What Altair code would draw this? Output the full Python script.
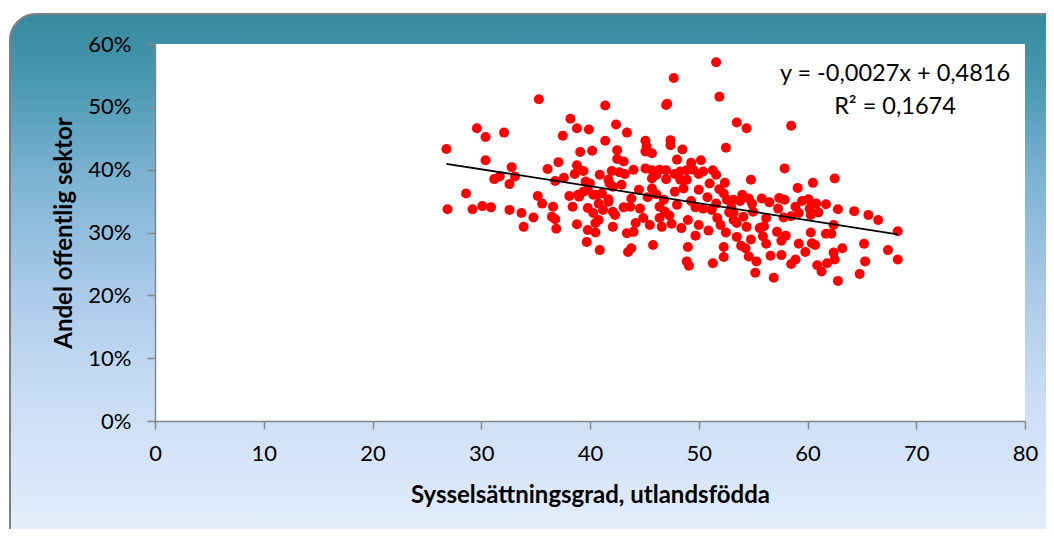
import altair as alt
import pandas as pd

# Employment rate among foreign born (x) and public-sector share (y, percent)
x_vals = [
    26.8, 35.3, 29.6, 30.4, 32.1, 30.4, 32.8, 31.2, 31.7, 32.6, 33.1, 28.6, 35.2, 36.1, 37.1, 37.5,
    38.2, 38.8, 39.9, 41.4, 42.4, 41.4, 39.1, 40.2, 38.8, 38.6, 39.4, 37.6, 36.8, 40.9, 42.0, 41.7,
    39.6, 40.0, 42.5, 42.5, 38.1, 38.9, 39.8, 40.6, 41.7, 42.1, 26.9, 29.2, 30.1, 30.9, 32.6, 33.7,
    33.9, 34.8, 35.6, 36.6, 36.5, 36.8, 36.9, 38.4, 38.8, 39.0, 39.7, 40.9, 39.8, 40.5, 39.8, 40.3,
    40.8, 41.2, 41.7, 42.1, 42.1, 41.1, 40.3,
    47.0, 47.1, 51.9, 51.6, 53.5, 43.4, 45.1, 45.2, 45.7, 45.1, 47.4, 47.4, 48.5, 52.5, 43.1, 48.0,
    49.3, 50.2, 42.7, 43.2, 44.0, 45.1, 45.7, 46.4, 47.0, 47.8, 48.3, 48.9, 49.5, 50.4, 51.3, 51.6,
    41.8, 42.9, 45.7, 46.1, 47.0, 48.3, 48.9, 50.0, 51.0, 52.4, 45.7, 46.1, 47.8, 48.6, 50.0, 52.3,
    53.2, 39.4, 43.8, 40.8, 42.3, 43.1, 43.7, 44.6, 46.4, 46.9, 48.0, 49.3, 50.4, 51.2, 51.6, 52.6,
    40.5, 44.9, 46.4, 46.6, 47.5, 48.4, 49.0, 50.0, 52.0, 53.2, 43.4, 44.0, 43.5, 43.8, 45.8, 49.0,
    48.9, 49.1, 51.3, 52.3, 52.3, 53.5, 47.7,
    54.4, 58.5, 57.9, 62.5, 60.5, 59.1, 54.8, 54.0, 55.8, 57.4, 57.9, 59.5, 60.1, 60.8, 61.7, 62.8,
    64.3, 65.6, 66.5, 57.3, 60.2, 61.0, 59.2, 58.5, 57.8, 56.2, 54.9, 54.6, 53.2, 54.1, 53.5, 54.4,
    55.6, 62.4, 60.3, 61.7, 62.2, 57.2, 55.9, 54.8, 56.2, 57.6, 59.2, 60.4, 60.7, 63.2, 65.2, 53.9,
    54.3, 59.8, 62.4, 54.6, 56.6, 57.6, 58.9, 62.5, 55.3, 58.5, 60.9, 61.8, 65.3, 55.2, 56.9, 61.3,
    62.8, 64.8, 68.3, 67.4, 68.3, 58.9, 60.3,
    44.5, 45.3, 46.8, 49.7, 50.8, 51.9, 53.0, 52.8, 44.2, 45.5, 47.3, 49.7, 50.9, 51.7, 52.5, 53.8,
    55.0, 56.5, 56.0, 58.0,
]
y_pct = [
    43.3, 51.2, 46.6, 45.2, 45.9, 41.5, 40.4, 38.5, 38.9, 37.7, 38.9, 36.2, 35.8, 40.1, 41.2, 45.4,
    48.1, 46.6, 46.4, 50.2, 47.2, 44.6, 42.8, 43.0, 40.7, 39.3, 39.8, 38.7, 38.2, 39.2, 39.8, 38.4,
    38.1, 37.8, 43.1, 41.7, 35.8, 36.0, 36.8, 36.0, 35.3, 37.3, 33.7, 33.7, 34.2, 34.0, 33.6, 33.1,
    30.9, 32.4, 34.6, 34.1, 32.5, 32.1, 30.6, 34.1, 31.3, 35.7, 28.5, 27.2, 30.4, 30.0, 33.9, 33.1,
    32.0, 33.6, 34.9, 30.9, 33.3, 36.2, 36.0,
    50.3, 50.5, 51.6, 57.1, 47.5, 45.9, 44.6, 43.7, 42.6, 42.9, 44.7, 43.9, 43.2, 43.5, 41.3, 41.6,
    41.1, 41.5, 39.6, 39.3, 40.0, 40.2, 39.9, 40.0, 39.9, 39.3, 39.7, 39.9, 40.0, 39.7, 39.9, 39.2,
    37.8, 37.6, 38.6, 39.2, 38.5, 38.4, 38.4, 39.3, 37.8, 37.9, 37.0, 36.1, 36.5, 37.0, 36.8, 36.2,
    35.2, 36.5, 35.4, 34.6, 32.8, 34.0, 34.1, 33.8, 34.1, 33.3, 34.4, 35.0, 33.8, 33.6, 34.6, 35.2,
    31.5, 32.3, 32.3, 30.9, 31.4, 30.7, 32.0, 31.2, 31.2, 32.0, 29.9, 30.1, 26.9, 27.5, 28.0, 27.7,
    25.4, 24.7, 25.1, 27.7, 26.1, 29.3, 54.6,
    46.6, 47.0, 40.2, 38.6, 37.9, 37.1, 38.4, 36.0, 35.4, 35.5, 35.2, 35.0, 35.3, 34.6, 34.5, 33.7,
    33.4, 32.8, 32.0, 33.8, 33.8, 33.2, 33.1, 32.6, 32.4, 32.3, 34.6, 35.4, 33.1, 32.5, 31.5, 30.9,
    30.7, 31.2, 30.0, 29.8, 29.8, 30.1, 29.4, 28.9, 28.2, 28.7, 28.2, 28.3, 28.0, 27.5, 28.2, 27.9,
    27.5, 26.9, 26.8, 26.2, 26.3, 26.4, 25.7, 25.7, 25.4, 25.0, 24.8, 25.1, 25.4, 23.6, 22.8, 23.8,
    22.3, 23.4, 30.2, 27.2, 25.7, 34.1, 32.8,
    36.8, 35.6, 35.2, 34.0, 35.6, 36.9, 34.0, 33.2, 31.5, 31.2, 32.7, 29.5, 30.3, 32.3, 30.0, 35.0,
    33.3, 34.8, 31.0, 29.5,
]

slope = -0.0027
intercept = 0.4816
eq_text = "y = -0,0027x + 0,4816"
r2_text = "R² = 0,1674"
x_title = "Sysselsättningsgrad, utlandsfödda"
y_title = "Andel offentlig sektor"
x_ticks = [0, 10, 20, 30, 40, 50, 60, 70, 80]
y_ticks = [0, 0.1, 0.2, 0.3, 0.4, 0.5, 0.6]

df = pd.DataFrame({"x": x_vals, "y": [v / 100 for v in y_pct]})
x0, x1 = min(x_vals), max(x_vals)
trend = pd.DataFrame({"x": [x0, x1], "y": [slope * x0 + intercept, slope * x1 + intercept]})

W, H = 870, 377
FONT = "Lato"
AXIS_GREY = "#868686"

xscale = alt.Scale(domain=[0, 80], nice=False)
yscale = alt.Scale(domain=[0, 0.6], nice=False)

one = pd.DataFrame({"k": [0]})

bg = alt.Chart(one).mark_rect(
    cornerRadius=26,
    stroke="#7f7f7f",
    strokeWidth=2,
    fill=alt.Gradient(
        gradient="linear", x1=0, y1=0, x2=0, y2=1,
        stops=[
            alt.GradientStop(offset=0.0, color="#378a9e"),
            alt.GradientStop(offset=0.12, color="#4898b0"),
            alt.GradientStop(offset=0.3, color="#7db3d2"),
            alt.GradientStop(offset=0.5, color="#a9c9e8"),
            alt.GradientStop(offset=0.7, color="#c9ddf5"),
            alt.GradientStop(offset=1.0, color="#e9f0fc"),
        ],
    ),
).encode(x=alt.value(-145), x2=alt.value(925), y=alt.value(-30), y2=alt.value(515))

plot_bg = alt.Chart(one).mark_rect(fill="white").encode(
    x=alt.value(0), x2=alt.value(W), y=alt.value(0), y2=alt.value(H)
)

axis_common = dict(
    grid=False, tickSize=8, zindex=2, labelFont=FONT, titleFont=FONT,
    labelColor="black", titleColor="black", titleFontWeight="bold",
    domainColor=AXIS_GREY, tickColor=AXIS_GREY, domainWidth=1.5, tickWidth=1.5,
    labelFontSize=22, titleFontSize=24, labelFlush=False,
)

points = alt.Chart(df).mark_circle(size=100, color="#ff0000", opacity=1).encode(
    x=alt.X(
        "x:Q", scale=xscale,
        axis=alt.Axis(values=x_ticks, title=x_title, labelPadding=14, titlePadding=19, **axis_common),
    ),
    y=alt.Y(
        "y:Q", scale=yscale,
        axis=alt.Axis(values=y_ticks, format=".0%", title=y_title, labelPadding=16,
                      titlePadding=11, **axis_common),
    ),
)

line = alt.Chart(trend).mark_line(color="black", strokeWidth=1.8).encode(
    x=alt.X("x:Q", scale=xscale), y=alt.Y("y:Q", scale=yscale)
)

eq = alt.Chart(one).mark_text(
    text=eq_text, font=FONT, fontSize=23.5, color="black", align="center", baseline="middle"
).encode(x=alt.value(740), y=alt.value(30))
r2 = alt.Chart(one).mark_text(
    text=r2_text, font=FONT, fontSize=23.5, color="black", align="center", baseline="middle"
).encode(x=alt.value(740), y=alt.value(63))

chart = alt.layer(bg, plot_bg, points, line, eq, r2).properties(
    width=W,
    height=H,
    autosize=alt.AutoSizeParams(type="none"),
    padding={"left": 147, "top": 36, "right": 21, "bottom": 108},
).configure_view(strokeWidth=0)

chart.save("out.html", embed_options={"renderer": "svg", "actions": False})
